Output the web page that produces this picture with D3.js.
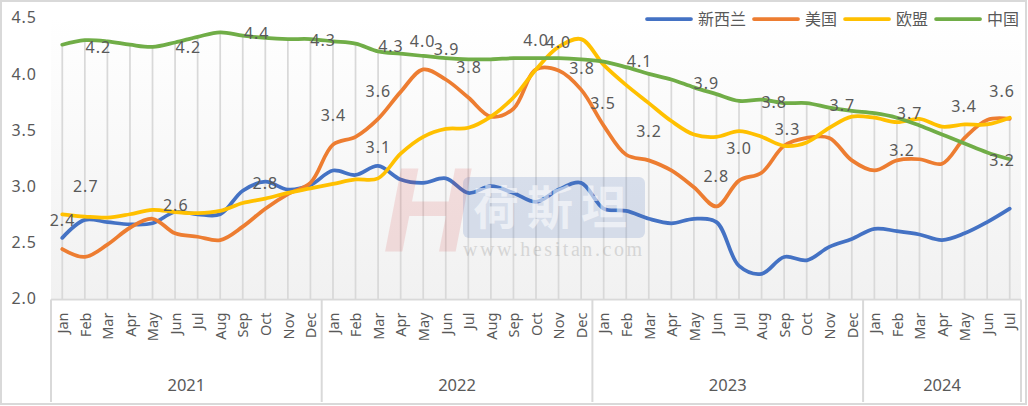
<!DOCTYPE html>
<html>
<head>
<meta charset="utf-8">
<script src="https://cdn.jsdelivr.net/npm/d3@7"></script>
<style>
	body { margin: 0; background: #fff; }
	svg { display: block; }
</style>
</head>
<body>
<div id="chart"></div>
<script>
// categories
const monthNames = ["Jan", "Feb", "Mar", "Apr", "May", "Jun", "Jul", "Aug", "Sep", "Oct", "Nov", "Dec"];
const years = ["2021", "2022", "2023", "2024"];
const monthsPerYear = [12, 12, 12, 7];

// series
const seriesNames = ["新西兰", "美国", "欧盟", "中国"];
const nzValues = [2.54, 2.70, 2.68, 2.66, 2.67, 2.77, 2.75, 2.75, 2.96, 3.04, 2.97, 3.01,
	3.14, 3.10, 3.18, 3.06, 3.03, 3.07, 2.94, 3.00, 2.94, 2.86, 2.97, 3.03,
	2.80, 2.78, 2.71, 2.67, 2.71, 2.68, 2.29, 2.22, 2.37, 2.34, 2.46, 2.53,
	2.62, 2.60, 2.57, 2.52, 2.58, 2.68, 2.80];
const usValues = [2.44, 2.37, 2.48, 2.63, 2.71, 2.58, 2.55, 2.52, 2.64, 2.80, 2.93, 3.03,
	3.37, 3.44, 3.60, 3.84, 4.04, 3.95, 3.79, 3.62, 3.69, 4.04, 4.03, 3.86,
	3.54, 3.28, 3.23, 3.14, 2.99, 2.82, 3.05, 3.12, 3.36, 3.43, 3.43, 3.23,
	3.14, 3.23, 3.24, 3.20, 3.43, 3.59, 3.60];
const euValues = [2.75, 2.73, 2.72, 2.75, 2.79, 2.77, 2.76, 2.78, 2.85, 2.89, 2.94, 2.98,
	3.02, 3.06, 3.07, 3.29, 3.44, 3.51, 3.52, 3.62, 3.79, 4.04, 4.24, 4.31,
	4.08, 3.90, 3.74, 3.58, 3.46, 3.44, 3.49, 3.44, 3.36, 3.39, 3.52, 3.62,
	3.61, 3.57, 3.60, 3.53, 3.55, 3.55, 3.61];
const cnValues = [4.26, 4.30, 4.29, 4.26, 4.24, 4.28, 4.33, 4.37, 4.34, 4.32, 4.31, 4.31,
	4.29, 4.27, 4.20, 4.18, 4.16, 4.14, 4.13, 4.13, 4.14, 4.14, 4.14, 4.13,
	4.11, 4.06, 4.00, 3.95, 3.88, 3.82, 3.76, 3.77, 3.74, 3.74, 3.70, 3.67,
	3.65, 3.61, 3.54, 3.46, 3.38, 3.30, 3.24];

// data labels: text, category slot, value level
const labelText = ["2.4", "4.2", "2.7", "4.2", "2.6", "4.4", "2.8", "4.3", "3.4", "3.6", "3.1", "4.3",
	"4.0", "3.9", "3.8", "4.0", "4.0", "3.8", "3.5", "4.1", "3.2", "3.9", "2.8", "3.0",
	"3.8", "3.3", "3.7", "3.2", "3.7", "3.4", "3.6", "3.2"];
const labelSlot = [0.01, 1.60, 1.04, 5.59, 5.03, 8.62, 9.00, 11.56, 12.02, 14.01, 14.01, 14.57,
	15.97, 17.04, 18.03, 21.0, 21.99, 23.04, 23.97, 25.59, 26.01, 28.55, 28.99, 30.0,
	31.56, 32.15, 34.58, 37.23, 37.56, 39.98, 41.66, 41.66];
const labelLevel = [2.70, 4.24, 3.00, 4.24, 2.83, 4.36, 3.03, 4.30, 3.63, 3.85, 3.35, 4.25,
	4.29, 4.22, 4.06, 4.30, 4.28, 4.05, 3.74, 4.11, 3.49, 3.92, 3.09, 3.34,
	3.75, 3.51, 3.72, 3.32, 3.65, 3.71, 3.85, 3.23];

const yTicks = [2.0, 2.5, 3.0, 3.5, 4.0, 4.5];

const width = 1028;
const height = 406;
const colors = ["#4472C4", "#ED7D31", "#FFC000", "#70AD47"];
const textColor = "#595959";
const numFont = "'Noto Sans', sans-serif";
const cjkFont = "'Noto Sans CJK SC', sans-serif";

let categories = [];
years.forEach((yr, k) => {
	for (let m = 0; m < monthsPerYear[k]; m++) categories.push({year: yr, month: monthNames[m]});
});
const n = categories.length;
const series = [nzValues, usValues, euValues, cnValues];

const plot = {left: 51, right: 1021, top: 17.75, bottom: 298.5};

let x = d3.scaleLinear().domain([-0.5, n - 0.5]).range([plot.left, plot.right]);
let y = d3.scaleLinear().domain([2, 4.5]).range([plot.bottom, plot.top]);

const svg = d3.select("#chart")
	.append("svg")
	.attr("width", width)
	.attr("height", height);

// outer border
svg.append("rect")
	.attr("x", 1).attr("y", 1)
	.attr("width", width - 3).attr("height", height - 3)
	.attr("fill", "#fff")
	.attr("stroke", "#d9d9d9")
	.attr("stroke-width", 2);

// plot area gradient
let grad = svg.append("defs").append("linearGradient")
	.attr("id", "plotBg")
	.attr("x1", 0).attr("y1", 0).attr("x2", 0).attr("y2", 1);
grad.append("stop").attr("offset", "0%").attr("stop-color", "#ffffff");
grad.append("stop").attr("offset", "100%").attr("stop-color", "#f1f1f1");

svg.append("rect")
	.attr("x", plot.left).attr("y", plot.top)
	.attr("width", plot.right - plot.left)
	.attr("height", plot.bottom - plot.top)
	.attr("fill", "url(#plotBg)");

// drop lines from the highest point of each month
svg.append("g").selectAll("line.drop")
	.data(d3.range(n))
	.enter().append("line")
	.attr("class", "drop")
	.attr("x1", i => x(i)).attr("x2", i => x(i))
	.attr("y1", i => y(d3.max(series, s => s[i])))
	.attr("y2", y(2) + 1)
	.style("stroke", "#d9d9d9")
	.style("stroke-width", 1.75);

// category axis frame
let groupEdges = [0];
monthsPerYear.forEach((c, k) => groupEdges.push(groupEdges[k] + c));

svg.append("line")
	.attr("x1", plot.left).attr("x2", plot.right)
	.attr("y1", y(2) + 1).attr("y2", y(2) + 1)
	.style("stroke", "#d9d9d9")
	.style("stroke-width", 2);

svg.append("g").selectAll("line.sep")
	.data(groupEdges)
	.enter().append("line")
	.attr("class", "sep")
	.attr("x1", e => x(e - 0.5)).attr("x2", e => x(e - 0.5))
	.attr("y1", y(2) + 1).attr("y2", 402)
	.style("stroke", "#d9d9d9")
	.style("stroke-width", 2);

// month labels
let xAxis = d3.axisBottom(x)
	.tickValues(d3.range(n))
	.tickFormat(i => categories[i].month)
	.tickSize(0);

let xg = svg.append("g")
	.attr("class", "x axis")
	.attr("transform", "translate(0," + y(2) + ")")
	.call(xAxis);
xg.select(".domain").remove();
xg.selectAll("text")
	.attr("transform", "rotate(-90)")
	.attr("x", -14)
	.attr("y", 0)
	.attr("dy", "0.36em")
	.style("text-anchor", "end")
	.style("font-family", numFont)
	.style("font-size", "14.5px")
	.style("fill", textColor);

// year labels
svg.append("g").selectAll("text.year")
	.data(years)
	.enter().append("text")
	.attr("class", "year")
	.attr("x", (d, k) => (x(groupEdges[k] - 0.5) + x(groupEdges[k + 1] - 0.5)) / 2)
	.attr("y", 385)
	.attr("dy", "0.35em")
	.attr("text-anchor", "middle")
	.style("font-family", numFont)
	.style("font-size", "16.5px")
	.style("fill", textColor)
	.text(d => d);

// value axis
let yAxis = d3.axisLeft(y)
	.tickValues(yTicks)
	.tickFormat(d3.format(".1f"))
	.tickSize(0)
	.tickPadding(14);

let yg = svg.append("g")
	.attr("class", "y axis")
	.attr("transform", "translate(" + plot.left + ",0)")
	.call(yAxis);
yg.select(".domain").remove();
yg.selectAll("text")
	.style("font-family", numFont)
	.style("font-size", "16px")
	.style("letter-spacing", "1px")
	.style("fill", textColor);

// lines
let line = d3.line()
	.x((d, i) => x(i))
	.y(d => y(d))
	.curve(d3.curveCatmullRom);

svg.append("g").selectAll("path.series")
	.data(series)
	.enter().append("path")
	.attr("class", "series")
	.attr("d", d => line(d))
	.style("fill", "none")
	.style("stroke", (d, k) => colors[k])
	.style("stroke-width", 3.75)
	.style("stroke-linecap", "round")
	.style("stroke-linejoin", "round");

// watermark
let wm = svg.append("g").attr("class", "watermark");
wm.append("text")
	.attr("x", 383).attr("y", 252)
	.style("font-family", "'Liberation Sans', sans-serif")
	.style("font-weight", "bold")
	.style("font-style", "italic")
	.style("font-size", "120px")
	.style("fill", "#d43030")
	.style("opacity", 0.13);
wm.select("text").text("H");
wm.append("rect")
	.attr("x", 463).attr("y", 177)
	.attr("width", 182).attr("height", 61)
	.attr("rx", 6)
	.style("fill", "#4a6fb5")
	.style("opacity", 0.18);
wm.append("text")
	.attr("x", 554).attr("y", 208)
	.attr("dy", "0.35em")
	.attr("text-anchor", "middle")
	.style("font-family", cjkFont)
	.style("font-weight", "bold")
	.style("font-size", "46px")
	.style("letter-spacing", "8px")
	.style("fill", "#ffffff")
	.style("opacity", 0.55)
	.text("荷斯坦");
wm.append("text")
	.attr("x", 463).attr("y", 256)
	.attr("textLength", 179)
	.style("font-family", "'Liberation Serif', serif")
	.style("font-size", "20px")
	.style("fill", "#808080")
	.style("opacity", 0.25)
	.text("www.hesitan.com");

// data labels
svg.append("g").selectAll("text.label")
	.data(labelText)
	.enter().append("text")
	.attr("class", "label")
	.attr("x", (d, k) => x(labelSlot[k]))
	.attr("y", (d, k) => y(labelLevel[k]))
	.attr("dy", "0.36em")
	.attr("text-anchor", "middle")
	.style("font-family", numFont)
	.style("font-size", "16px")
	.style("letter-spacing", "1px")
	.style("fill", textColor)
	.text(d => d);

// legend
let legend = svg.append("g").attr("class", "legend");
let lx = 645;
seriesNames.forEach((name, k) => {
	legend.append("line")
		.attr("x1", lx + 2).attr("x2", lx + 46)
		.attr("y1", 19).attr("y2", 19)
		.style("stroke", colors[k])
		.style("stroke-width", 3.75)
		.style("stroke-linecap", "round");
	let t = legend.append("text")
		.attr("x", lx + 53)
		.attr("y", 19)
		.attr("dy", "0.35em")
		.style("font-family", cjkFont)
		.style("font-size", "16px")
		.style("fill", textColor)
		.text(name);
	lx += 53 + t.node().getComputedTextLength() + 6;
});
</script>
</body>
</html>
